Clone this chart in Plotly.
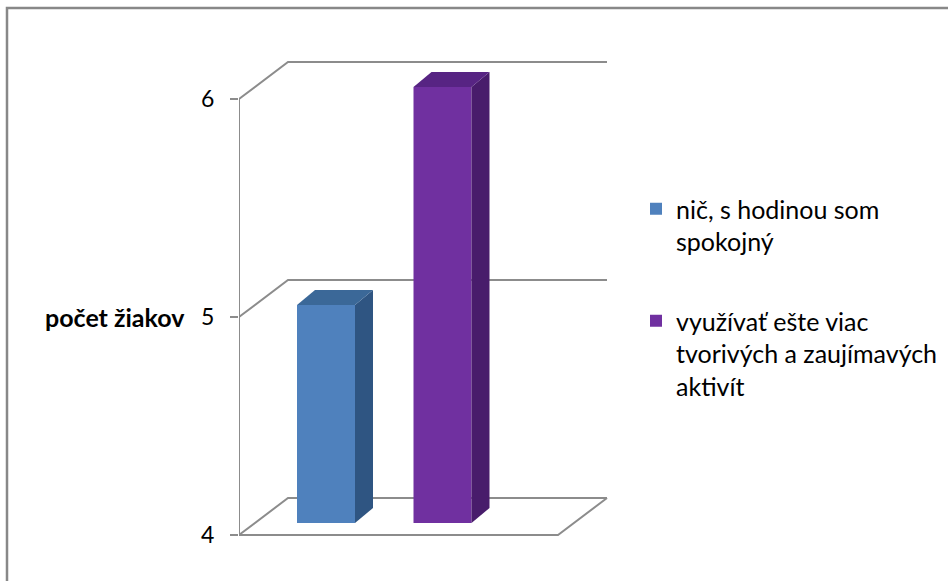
import plotly.graph_objects as go

# ---- data ----
categories = ["nič, s hodinou som<br>spokojný",
              "využívať ešte viac<br>tvorivých a zaujímavých<br>aktivít"]
values = [5, 6]
front_colors = ["#4F81BD", "#7030A0"]
top_colors = ["#3B6898", "#572483"]
side_colors = ["#2F5582", "#481C6B"]
tick_values = [4, 5, 6]
axis_title = "počet žiakov"

# ---- geometry (layout only) ----
W, H = 948, 581
ML, MR, MT, MB = 239, 0, 40, 21
PX_PER_UNIT = 218.0
Y_BASE_PIX = 535  # pixel of value 4 at front wall
plot_h = H - MT - MB
y_top = 4 + (Y_BASE_PIX - MT) / PX_PER_UNIT
y_bot = 4 - (H - MB - Y_BASE_PIX) / PX_PER_UNIT
x_max = W - ML - MR

ymin = min(tick_values)
ymax = max(tick_values)
wall_dx = 49
wall_dy = 37 / PX_PER_UNIT
floor_w = 319
bar_positions = [87, 203.5]
bar_w = 58
bar_lift = 12 / PX_PER_UNIT
bar_dx = 18
bar_dy = 15 / PX_PER_UNIT

fig = go.Figure()

line_col = "#8C8C8C"
shapes = []
# gridlines on side + back wall
for v in tick_values:
    shapes.append(dict(type="path", layer="below",
                       path=f"M 0,{v} L {wall_dx},{v+wall_dy} L {floor_w+wall_dx},{v+wall_dy}",
                       xref="x", yref="y", line=dict(color=line_col, width=2)))
# front vertical axis line
shapes.append(dict(type="line", layer="below", x0=0, x1=0, y0=ymin, y1=ymax,
                   xref="x", yref="y", line=dict(color=line_col, width=2)))
# floor front edge and right edge
shapes.append(dict(type="path", layer="below",
                   path=f"M 0,{ymin} L {floor_w},{ymin} L {floor_w+wall_dx},{ymin+wall_dy}",
                   xref="x", yref="y", line=dict(color=line_col, width=2)))

for i, (name, v) in enumerate(zip(categories, values)):
    xc = bar_positions[i]
    xl, xr = xc - bar_w / 2, xc + bar_w / 2
    b = ymin + bar_lift
    t = b + (v - ymin)
    fig.add_trace(go.Bar(x=[xc], y=[v - ymin], base=[b], width=bar_w,
                         marker=dict(color=front_colors[i], line=dict(width=0)),
                         name=name, legendgroup=f"g{i}", hoverinfo="skip"))
    # side
    fig.add_trace(go.Scatter(x=[xr, xr + bar_dx, xr + bar_dx, xr, xr],
                             y=[b, b + bar_dy, t + bar_dy, t, b],
                             fill="toself", fillcolor=side_colors[i], mode="lines",
                             line=dict(width=0, color=side_colors[i]),
                             showlegend=False, hoverinfo="skip"))
    # top
    fig.add_trace(go.Scatter(x=[xl, xl + bar_dx, xr + bar_dx, xr, xl],
                             y=[t, t + bar_dy, t + bar_dy, t, t],
                             fill="toself", fillcolor=top_colors[i], mode="lines",
                             line=dict(width=0, color=top_colors[i]),
                             showlegend=False, hoverinfo="skip"))

def px_to_paper_x(px):
    return (px - ML) / x_max

def py_to_paper_y(py):
    return (H - MB - py) / plot_h

# outer frame (top and left)
shapes.append(dict(type="path", xref="paper", yref="paper",
                   path=f"M {px_to_paper_x(7)},{py_to_paper_y(H+5)} L {px_to_paper_x(7)},{py_to_paper_y(8)} L {px_to_paper_x(W+5)},{py_to_paper_y(8)}",
                   line=dict(color="#888888", width=2.5)))

fig.update_layout(
    width=W, height=H,
    margin=dict(l=ML, r=MR, t=MT, b=MB, autoexpand=False),
    paper_bgcolor="white", plot_bgcolor="white",
    barmode="overlay",
    showlegend=True,
    shapes=shapes,
    font=dict(family="Lato, 'Open Sans', sans-serif", color="#000000"),
    xaxis=dict(range=[0, x_max], visible=False, fixedrange=True),
    yaxis=dict(range=[y_bot, y_top], tickvals=tick_values, ticktext=[str(v) for v in tick_values],
               showgrid=False, zeroline=False, showline=False,
               ticks="outside", ticklen=8, tickwidth=2, tickcolor=line_col,
               tickfont=dict(size=23, color="#000000"), ticklabelstandoff=11),
    legend=dict(x=px_to_paper_x(636), y=py_to_paper_y(186), xanchor="left", yanchor="top",
                font=dict(size=25, color="#000000"), valign="top",
                tracegroupgap=44, itemwidth=30, bgcolor="rgba(0,0,0,0)"),
    annotations=[dict(text=f"<b>{axis_title}</b>", xref="paper", yref="y",
                      x=px_to_paper_x(187), y=5, xanchor="right", yanchor="middle",
                      showarrow=False, font=dict(size=25, color="#000000"))],
)

fig.write_html("out.html")
